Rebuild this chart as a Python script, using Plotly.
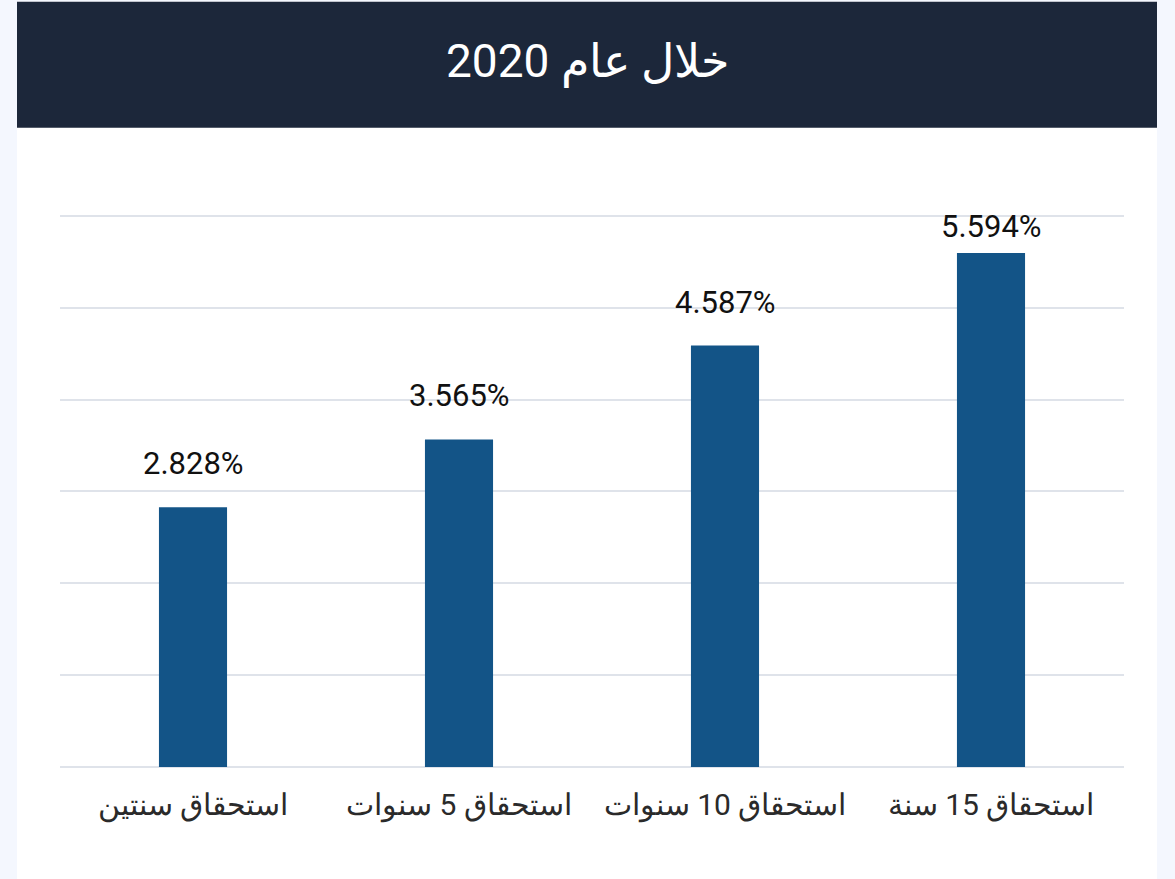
import plotly.graph_objects as go

categories = ["استحقاق سنتين", "استحقاق 5 سنوات", "استحقاق 10 سنوات", "استحقاق 15 سنة"]
values = [2.828, 3.565, 4.587, 5.594]
value_labels = ["2.828%", "3.565%", "4.587%", "5.594%"]
title_text = "خلال عام 2020"

W, H = 1175, 879
PX_PER_UNIT = 551 / 6
YMAX = 6.03
TOP = 767 - YMAX * PX_PER_UNIT
PW, PH = W - 60 - 51, 767 - TOP
fig = go.Figure()
fig.add_trace(go.Bar(
    x=categories, y=values,
    marker=dict(color="#135487", line=dict(width=0)),
    width=0.256,
    hoverinfo="skip",
))
for c, v, t in zip(categories, values, value_labels):
    bar_top = 767 - v * PX_PER_UNIT
    shift = 23
    # labels may not rise above the top of the plot region (clamped like the original)
    if bar_top - shift - 36 < 211:
        shift = max(bar_top - 211 - 36, 0)
    fig.add_annotation(x=c, y=v, text=t, showarrow=False, yanchor="bottom",
                       yshift=shift, font=dict(family="Roboto, Noto Sans", size=31, color="#111111"))

# panel shapes
fig.add_shape(type="rect", xref="paper", yref="paper",
              x0=(17 - 60) / PW, x1=(1157 - 60) / PW,
              y0=(767 - 879) / PH, y1=(767 - 2) / PH,
              fillcolor="white", line=dict(width=0), layer="below")
fig.add_shape(type="rect", xref="paper", yref="paper",
              x0=(17 - 60) / PW, x1=(1157 - 60) / PW,
              y0=(767 - 128) / PH, y1=(767 - 2) / PH,
              fillcolor="#1c273a", line=dict(width=0), layer="below")
fig.add_annotation(xref="paper", yref="paper", x=(587 - 60) / PW,
                   y=(767 - 62) / PH, text=title_text, showarrow=False,
                   xanchor="center", yanchor="middle",
                   font=dict(family="Roboto, Noto Sans", size=46, color="white"))

fig.update_layout(
    width=W, height=H,
    margin=dict(l=60, r=51, t=TOP, b=112),
    paper_bgcolor="#f4f7fe", plot_bgcolor="white",
    showlegend=False,
    xaxis=dict(showgrid=False, showline=False, ticks="",
               tickfont=dict(family="Roboto, Noto Sans", size=30, color="#2a2a2a"),
               ticklabelstandoff=17, fixedrange=True),
    yaxis=dict(range=[0, YMAX], tickvals=[0, 1, 2, 3, 4, 5, 6], showticklabels=False,
               gridcolor="#dfe3ea", gridwidth=2, zeroline=True, zerolinecolor="#dfe3ea",
               zerolinewidth=2, fixedrange=True),
    bargap=0.744,
)
fig.write_html("out.html", config={"displayModeBar": False},
               post_script="document.body.style.margin='0';document.body.style.background='#f4f7fe';")
